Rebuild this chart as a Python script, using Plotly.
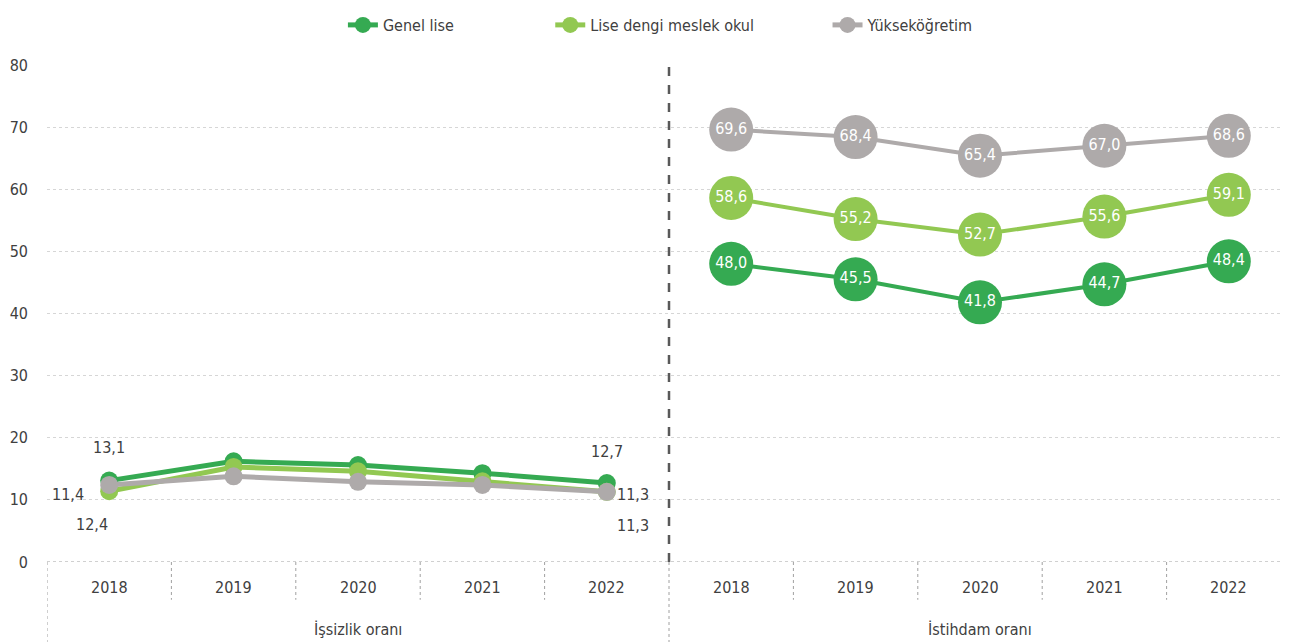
import plotly.graph_objects as go

years = ["2018", "2019", "2020", "2021", "2022"]
groups = ["İşsizlik oranı", "İstihdam oranı"]

genel_issizlik = [13.1, 16.2, 15.6, 14.3, 12.7]
meslek_issizlik = [11.4, 15.3, 14.6, 13.0, 11.3]
yuksek_issizlik = [12.4, 13.8, 12.9, 12.4, 11.3]

genel_istihdam = [48.0, 45.5, 41.8, 44.7, 48.4]
meslek_istihdam = [58.6, 55.2, 52.7, 55.6, 59.1]
yuksek_istihdam = [69.6, 68.4, 65.4, 67.0, 68.6]

names = ["Genel lise", "Lise dengi meslek okul", "Yükseköğretim"]
colors = ["#35AA52", "#92C852", "#AEAAAA"]

FONT = "Liberation Sans Narrow, Arial Narrow, DejaVu Sans Condensed, sans-serif"
TXT = "#404040"


def fmt(v):
    return f"{v:.1f}".replace(".", ",")


x_left = list(range(len(years)))
x_right = [i + len(years) for i in range(len(years))]

fig = go.Figure()

series = [
    (genel_issizlik, genel_istihdam),
    (meslek_issizlik, meslek_istihdam),
    (yuksek_issizlik, yuksek_istihdam),
]
# pad legend names so the items spread like the original
pads = [20, 15, 0]

for name, color, (left, right), pad in zip(names, colors, series, pads):
    fig.add_trace(go.Scatter(
        x=x_left, y=left, name=name + "\u00a0" * pad, mode="lines+markers",
        line=dict(color=color, width=5),
        marker=dict(color=color, size=18),
        legendgroup=name, showlegend=True, hoverinfo="skip"))
    fig.add_trace(go.Scatter(
        x=x_right, y=right, name=name, mode="lines+markers+text",
        line=dict(color=color, width=4),
        marker=dict(color=color, size=44),
        text=[fmt(v) for v in right], textposition="middle center",
        textfont=dict(color="white", size=16, family=FONT),
        legendgroup=name, showlegend=False, hoverinfo="skip"))

# labels on the left panel (only first and last years)
left_labels = [
    (0, genel_issizlik[0], 0, 33),
    (0, meslek_issizlik[0], -41, -3),
    (0, yuksek_issizlik[0], -17, -40),
    (4, genel_issizlik[4], 0, 32),
    (4, meslek_issizlik[4], 26, -3),
    (4, yuksek_issizlik[4], 26, -34),
]
for xi, v, dx, dy in left_labels:
    fig.add_annotation(x=xi, y=v, text=fmt(v), showarrow=False,
                       xshift=dx, yshift=dy,
                       font=dict(size=16, color=TXT, family=FONT))

# year labels and group labels
for i, yr in enumerate(years * 2):
    fig.add_annotation(x=i, y=-0.052, xref="x", yref="paper", text=yr,
                       showarrow=False, yanchor="middle",
                       font=dict(size=16, color=TXT, family=FONT))
for g, name in enumerate(groups):
    fig.add_annotation(x=g * 5 + 2, y=-0.1365, xref="x", yref="paper", text=name,
                       showarrow=False, yanchor="middle",
                       font=dict(size=16, color=TXT, family=FONT))

# dividers
shapes = []
for i in range(11):
    xb = i - 0.5
    y1 = -0.2 if i in (0, 5, 10) else -0.076
    shapes.append(dict(type="line", xref="x", yref="paper", x0=xb, x1=xb,
                       y0=0, y1=y1, line=dict(color="#A0A0A0", width=1, dash="dot")))
shapes.append(dict(type="line", xref="x", yref="y", x0=4.5, x1=4.5, y0=0, y1=80,
                   line=dict(color="#595959", width=2.5, dash="dash")))
shapes.append(dict(type="line", xref="paper", yref="y", x0=0, x1=1, y0=0, y1=0,
                   line=dict(color="#A0A0A0", width=1, dash="dot")))

fig.update_layout(
    width=1283, height=634,
    paper_bgcolor="white", plot_bgcolor="white",
    margin=dict(l=39, r=0, t=56, b=80),
    font=dict(family=FONT, size=16, color=TXT),
    shapes=shapes,
    legend=dict(orientation="h", x=0.4935, xanchor="center", y=1.08, yanchor="middle",
                font=dict(size=16, color=TXT, family=FONT)),
    xaxis=dict(range=[-0.5, 9.5], showticklabels=False, showgrid=False,
               zeroline=False, showline=False, fixedrange=True),
    yaxis=dict(range=[0, 80], tickvals=[0, 10, 20, 30, 40, 50, 60, 70, 80],
               showgrid=True, gridcolor="#D6D6D6", griddash="dot", gridwidth=1,
               zeroline=False, showline=False, ticks="", ticklabelstandoff=18,
               tickfont=dict(size=16, color=TXT, family=FONT)),
)

fig.write_html("out.html")
